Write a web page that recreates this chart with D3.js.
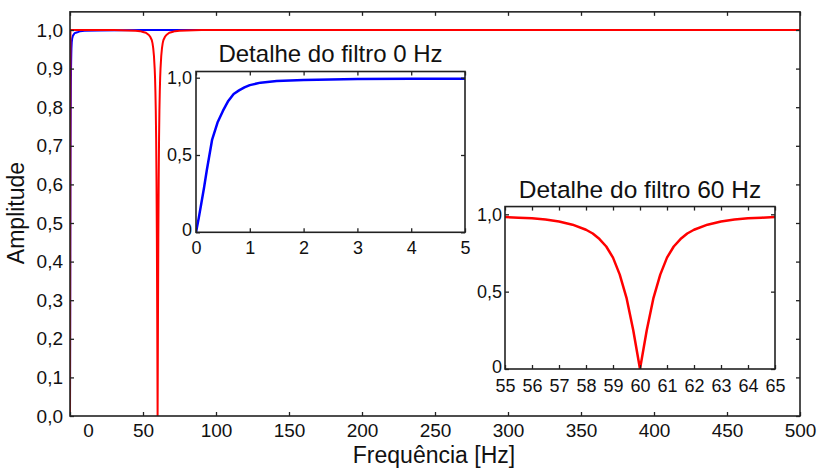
<!DOCTYPE html>
<html>
<head>
<meta charset="utf-8">
<script src="https://cdn.jsdelivr.net/npm/d3@7"></script>
<style>
  body { margin: 0; background: #fff; }
  text { font-family: "Liberation Sans", Arial, sans-serif; fill: #111; }
</style>
</head>
<body>
<svg id="chart" width="818" height="468"></svg>
<script>
// high-pass (0 Hz) response
const blueFreq = [0, 0.05, 0.1, 0.15, 0.2, 0.3, 0.4, 0.5, 0.6, 0.7, 0.8, 0.9, 1.0, 1.2, 1.5, 2, 2.5, 3, 4, 5, 7, 10, 20, 50, 100, 500];
const blueAmp  = [0, 0.09, 0.19, 0.29, 0.40, 0.60, 0.71, 0.785, 0.85, 0.895, 0.918, 0.937, 0.952, 0.968, 0.978, 0.985, 0.988, 0.991, 0.993, 0.994, 0.997, 0.998, 0.999, 1, 1, 1];

// notch (60 Hz) response
const redFreq = [0, 0.3, 10, 20, 30, 40, 45, 48, 50, 52, 54, 55, 55.5, 56, 56.5, 57, 57.5, 58, 58.25, 58.5, 58.75, 59,
  59.25, 59.5, 59.75, 60, 60.25, 60.5, 60.75, 61, 61.25, 61.5, 61.75, 62, 62.5, 63, 63.5, 64, 64.5, 65, 66, 68, 70, 72,
  75, 80, 90, 100, 200, 300, 400, 500];
const redAmp = [0, 1, 1, 1, 1, 0.999, 0.998, 0.997, 0.995, 0.993, 0.987, 0.982, 0.978, 0.974, 0.966, 0.953, 0.933, 0.90, 0.876, 0.84, 0.792, 0.72,
  0.61, 0.46, 0.25, 0, 0.25, 0.46, 0.61, 0.72, 0.792, 0.84, 0.876, 0.90, 0.933, 0.953, 0.966, 0.974, 0.978, 0.982, 0.987, 0.993, 0.995, 0.997,
  0.998, 0.999, 1, 1, 1, 1, 1, 1];

const mainXTicks = [0, 50, 100, 150, 200, 250, 300, 350, 400, 450, 500];
const mainYTicks = [0, 0.1, 0.2, 0.3, 0.4, 0.5, 0.6, 0.7, 0.8, 0.9, 1.0];
const zeroXTicks = [0, 1, 2, 3, 4, 5];
const notchXTicks = [55, 56, 57, 58, 59, 60, 61, 62, 63, 64, 65];
const insetYTicks = [0, 0.5, 1.0];

const blueData = blueFreq.map((f, i) => ({ f, a: blueAmp[i] }));
const redData = redFreq.map((f, i) => ({ f, a: redAmp[i] }));

const locale = d3.formatLocale({ decimal: ",", thousands: ".", grouping: [3], currency: ["", ""] });
const fmt1 = locale.format(".1f");
const insetFmt = d => d === 0 ? "0" : fmt1(d);

const svg = d3.select("#chart");

function panel(id, x, y, yTop, o) {
  const g = svg.append("g");
  const x0 = x.range()[0], x1 = x.range()[1];
  const yb = y(0), yt = y(yTop);

  g.append("rect")
    .attr("x", x0).attr("y", yt).attr("width", x1 - x0).attr("height", yb - yt)
    .attr("fill", "#fff");

  svg.append("clipPath").attr("id", id)
    .append("rect").attr("x", x0).attr("y", yt).attr("width", x1 - x0).attr("height", yb - yt);

  const lines = g.append("g").attr("clip-path", `url(#${id})`);
  const line = d3.line().x(d => x(d.f)).y(d => y(d.a));
  o.series.forEach(s => {
    lines.append("path")
      .datum(s.data)
      .attr("fill", "none")
      .attr("stroke", s.color)
      .attr("stroke-width", o.lw)
      .attr("stroke-linejoin", "round")
      .attr("d", line);
  });

  // ticks on all four sides, pointing inward
  const bottom = g.append("g").attr("transform", `translate(0,${yb})`)
    .call(d3.axisBottom(x).tickValues(o.xTicks).tickSizeInner(-4).tickSizeOuter(0).tickPadding(o.xPad).tickFormat(o.xFmt));
  g.append("g").attr("transform", `translate(0,${yt})`)
    .call(d3.axisTop(x).tickValues(o.xTicks).tickSizeInner(-4).tickSizeOuter(0).tickFormat(""));
  const left = g.append("g").attr("transform", `translate(${x0},0)`)
    .call(d3.axisLeft(y).tickValues(o.yTicks).tickSizeInner(-4).tickSizeOuter(0).tickPadding(o.yPad).tickFormat(o.yFmt));
  g.append("g").attr("transform", `translate(${x1},0)`)
    .call(d3.axisRight(y).tickValues(o.yTicks).tickSizeInner(-4).tickSizeOuter(0).tickFormat(""));

  g.selectAll(".domain").remove();
  g.selectAll(".tick line").attr("stroke", "#222").attr("stroke-width", 1.3);
  g.selectAll(".tick text")
    .attr("fill", "#111")
    .style("font-family", '"Liberation Sans", Arial, sans-serif')
    .style("font-size", o.fs + "px");

  g.append("rect")
    .attr("x", x0).attr("y", yt).attr("width", x1 - x0).attr("height", yb - yt)
    .attr("fill", "none").attr("stroke", "#222").attr("stroke-width", 1.6);

  if (o.title) {
    g.append("text")
      .attr("x", (x0 + x1) / 2).attr("y", o.titleY)
      .attr("text-anchor", "middle")
      .style("font-size", o.titleSize + "px")
      .text(o.title);
  }
  return { g, bottom, left };
}

// main chart
const xMain = d3.scaleLinear().domain([0, 500]).range([70, 800]);
const yMain = d3.scaleLinear().domain([0, 1]).range([416, 30]);
const main = panel("clipMain", xMain, yMain, 1.047, {
  series: [{ data: blueData, color: "#0000ff" }, { data: redData, color: "#ff0000" }],
  lw: 2, xTicks: mainXTicks, yTicks: mainYTicks, xFmt: d3.format("d"), yFmt: fmt1,
  xPad: 8, yPad: 7, fs: 19
});
// the "0" label sits a bit right of the frame corner
main.bottom.selectAll(".tick text").filter(d => d === 0).attr("dx", 18);

svg.append("text")
  .attr("x", 434).attr("y", 463)
  .attr("text-anchor", "middle")
  .style("font-size", "23px")
  .text("Frequência [Hz]");
svg.append("text")
  .attr("transform", "translate(24,213) rotate(-90)")
  .attr("text-anchor", "middle")
  .style("font-size", "23px")
  .text("Amplitude");

// inset: 0 Hz filter
const xZero = d3.scaleLinear().domain([0, 5]).range([196, 465]);
const yZero = d3.scaleLinear().domain([0, 1]).range([232.3, 77.7]);
const zero = panel("clipZero", xZero, yZero, 1.04, {
  series: [{ data: blueData, color: "#0000ff" }],
  lw: 2.5, xTicks: zeroXTicks, yTicks: insetYTicks, xFmt: d3.format("d"), yFmt: insetFmt,
  xPad: 9, yPad: 4, fs: 18, title: "Detalhe do filtro 0 Hz", titleY: 62, titleSize: 24
});
zero.left.selectAll(".tick text").filter(d => d === 0).attr("dy", "0.2em");

// inset: 60 Hz filter
const xNotch = d3.scaleLinear().domain([55, 65]).range([505, 775]);
const yNotch = d3.scaleLinear().domain([0, 1]).range([369, 214.3]);
const notch = panel("clipNotch", xNotch, yNotch, 1.05, {
  series: [{ data: redData, color: "#ff0000" }],
  lw: 2.5, xTicks: notchXTicks, yTicks: insetYTicks, xFmt: d3.format("d"), yFmt: insetFmt,
  xPad: 10, yPad: 3, fs: 18, title: "Detalhe do filtro 60 Hz", titleY: 198, titleSize: 24.5
});
notch.left.selectAll(".tick text").filter(d => d === 0).attr("dy", "0.2em");
</script>
</body>
</html>
